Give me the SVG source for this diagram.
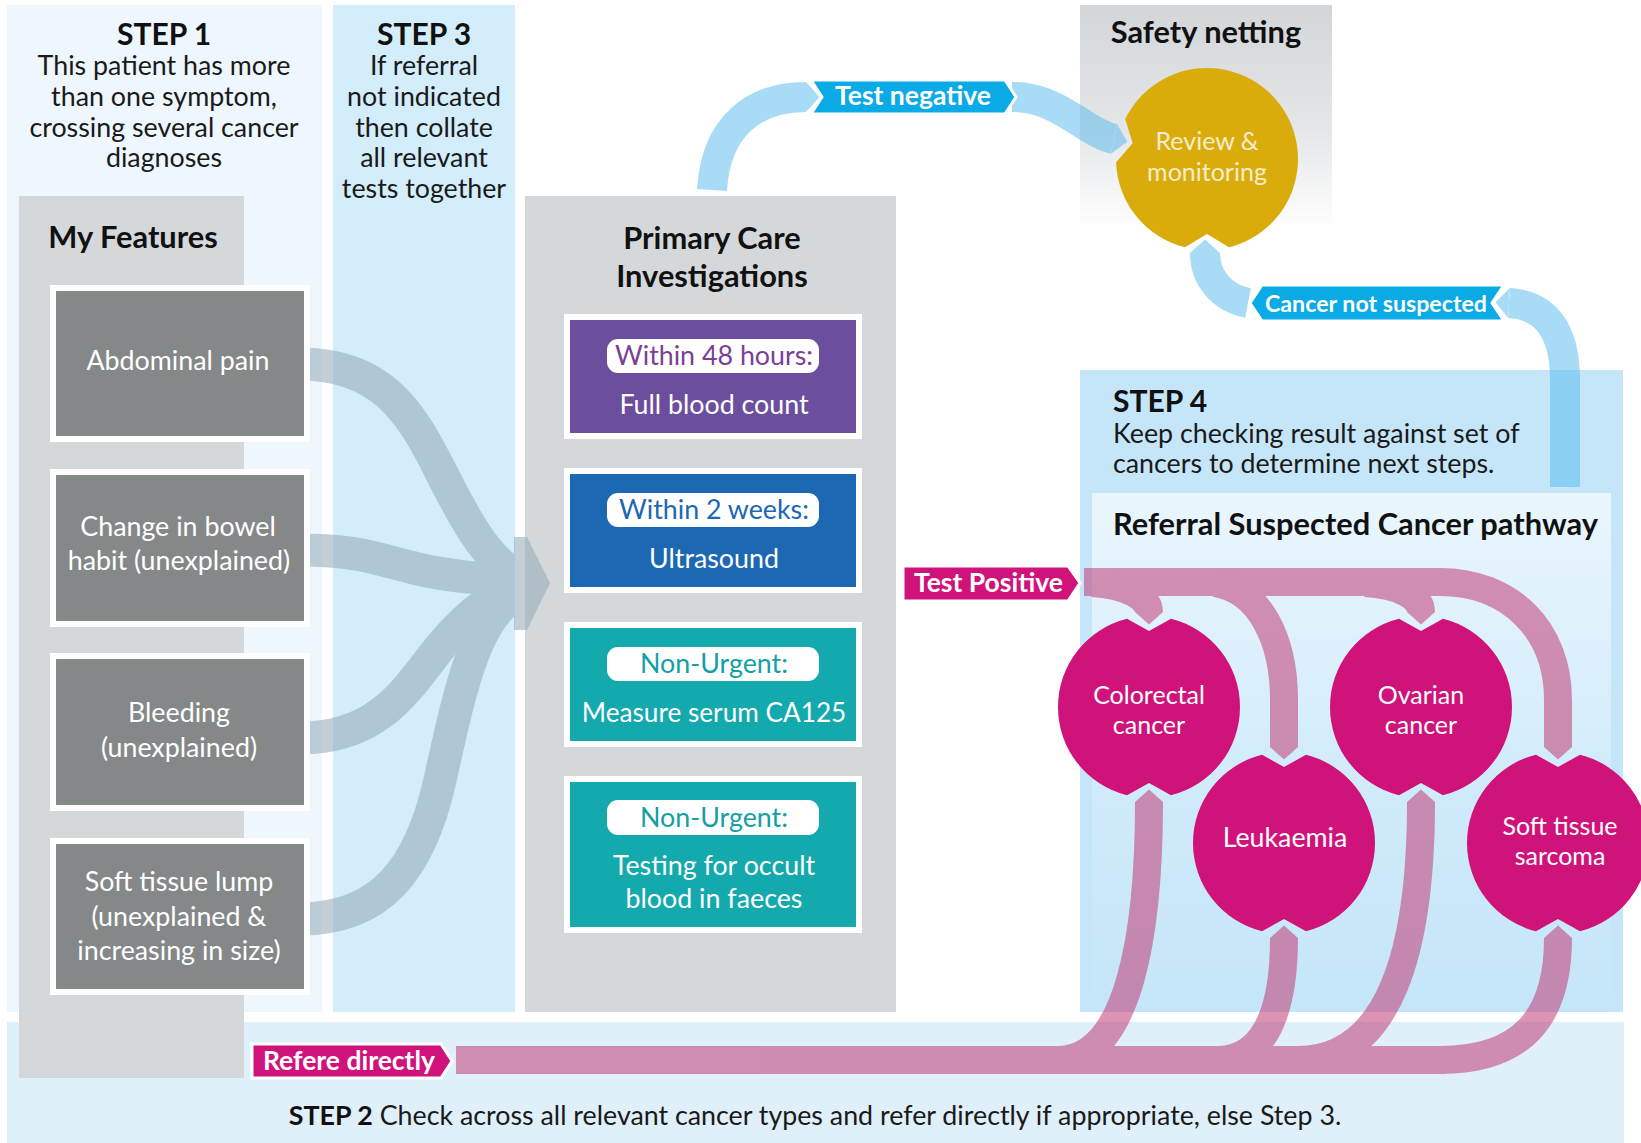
<svg xmlns="http://www.w3.org/2000/svg" width="1641" height="1143" viewBox="0 0 1641 1143">
<defs>
<style>
text{font-family:Lato,"Liberation Sans",sans-serif;}
.h{font-weight:bold;font-size:30px;fill:#111;}
.h2{font-weight:bold;font-size:30.8px;fill:#111;}
.b{font-size:26.8px;fill:#1a1a1a;}
.w{font-size:26.8px;fill:#fff;}
.cw{font-size:25px;fill:#fff;}
.tag{font-weight:bold;font-size:26.5px;fill:#fff;}
.feat{fill:#858888;stroke:#fff;stroke-width:6;}
.test{stroke:#fff;stroke-width:6;}
.pill{fill:#fff;}
.pink{fill:#d0137a;}
.blue{fill:#0aaae6;stroke:#fff;stroke-width:3;}
.ptag{fill:#d0137a;stroke:#fff;stroke-width:3;}
.c{text-anchor:middle;}
</style>
<linearGradient id="safeG" x1="0" y1="0" x2="0" y2="1">
<stop offset="0" stop-color="#d3d6d9"/>
<stop offset="0.55" stop-color="#e4e6e8"/>
<stop offset="1" stop-color="#ffffff"/>
</linearGradient>
<linearGradient id="refG" x1="0" y1="0" x2="0" y2="1">
<stop offset="0" stop-color="#eaf6fd"/>
<stop offset="0.6" stop-color="#cfeafa"/>
<stop offset="1" stop-color="#c5e6f9"/>
</linearGradient>
<marker id="tipP" viewBox="0 -0.5 0.45 1" refX="0" refY="0" markerWidth="0.45" markerHeight="1" markerUnits="strokeWidth" orient="auto"><path d="M0,-0.5 L0.45,0 L0,0.5 Z" fill="#c23c76"/></marker>
<marker id="tipB" viewBox="0 -0.5 0.45 1" refX="0" refY="0" markerWidth="0.45" markerHeight="1" markerUnits="strokeWidth" orient="auto"><path d="M0,-0.5 L0.45,0 L0,0.5 Z" fill="#53b9ed"/></marker>
</defs>

<rect width="1641" height="1143" fill="#fff"/>

<!-- background panels -->
<g id="panels">
<rect x="7" y="5" width="315" height="1007" fill="#eef7fd"/>
<rect x="333" y="5" width="182" height="1007" fill="#d3edfb"/>
<rect x="7" y="1022" width="1617" height="121" fill="#dff0fb"/>
<rect x="19" y="196" width="225" height="882" fill="#d5d8db"/>
<rect x="525" y="196" width="371" height="816" fill="#d5d8db"/>
<rect x="1080" y="5" width="252" height="225" fill="url(#safeG)"/>
<rect x="1080" y="370" width="543" height="642" fill="#c5e6f9"/>
<rect x="1092" y="493" width="519" height="519" fill="url(#refG)"/>
</g>

<!-- step texts -->
<g id="step1">
<text class="h c" x="164" y="45">STEP 1</text>
<text class="b c" x="164" y="75">This patient has more</text>
<text class="b c" x="164" y="106">than one symptom,</text>
<text class="b c" x="164" y="137">crossing several cancer</text>
<text class="b c" x="164" y="167">diagnoses</text>
</g>
<g id="step3">
<text class="h c" x="424" y="45">STEP 3</text>
<text class="b c" x="424" y="75">If referral</text>
<text class="b c" x="424" y="106">not indicated</text>
<text class="b c" x="424" y="137">then collate</text>
<text class="b c" x="424" y="167">all relevant</text>
<text class="b c" x="424" y="198">tests together</text>
</g>
<g id="step4">
<text class="h" x="1113" y="412">STEP 4</text>
<text class="b" x="1113" y="443">Keep checking result against set of</text>
<text class="b" x="1113" y="473">cancers to determine next steps.</text>
<text class="h2" x="1113" y="535">Referral Suspected Cancer pathway</text>
</g>
<g id="step2">
<text class="b c" x="815" y="1125"><tspan style="font-weight:bold;fill:#111">STEP 2</tspan> Check across all relevant cancer types and refer directly if appropriate, else Step 3.</text>
</g>
<text class="h2 c" x="133" y="248">My Features</text>
<text class="h2 c" x="712" y="249">Primary Care</text>
<text class="h2 c" x="712" y="287">Investigations</text>
<text class="h2 c" x="1206" y="43">Safety netting</text>

<!-- connectors -->
<g id="connectors">
<g id="grayflows" opacity="0.55" fill="none" stroke="#93a9b7" stroke-width="33">
<path d="M300 364 C380 364 410 410 440 470 C470 530 490 562 518 576"/>
<path d="M300 550 C360 550 380 560 410 567 C440 575 470 578 518 581"/>
<path d="M300 738 C370 738 400 700 430 660 C460 620 490 596 518 588"/>
<path d="M300 919 C380 919 420 870 440 780 C460 690 475 615 518 594"/>
<path d="M514 537 L527 537 L550 583 L527 630 L514 630 Z" fill="#93a9b7" stroke="none"/>
</g>
<g id="blueflows" opacity="0.5" fill="none" stroke="#53b9ed" stroke-width="30">
<path d="M712 190 C716 125 755 97 806 97" marker-end="url(#tipB)"/>
<path d="M1012 97 C1060 97 1085 133 1114 139" marker-end="url(#tipB)"/>
<path d="M1565 487 L1565 380 C1565 330 1545 305 1509 303" marker-end="url(#tipB)"/>
<path d="M1248 303 C1222 298 1205 278 1205 253" marker-end="url(#tipB)"/>
</g>
<g id="pinkflows" opacity="0.55" fill="none" stroke="#c23c76" stroke-width="28">
<path d="M1084 582 L1440 582 C1510 582 1558 630 1558 700 L1558 747" marker-end="url(#tipP)"/>
<path d="M1092 583 C1128 585 1149 598 1149 612" marker-end="url(#tipP)"/>
<path d="M1215 583 C1260 590 1284 640 1284 700 L1284 747" marker-end="url(#tipP)"/>
<path d="M1365 583 C1402 585 1421 598 1421 612" marker-end="url(#tipP)"/>
<path d="M456 1060 L1445 1060"/>
<path d="M1058 1060 C1130 1060 1149 930 1149 802" marker-end="url(#tipP)"/>
<path d="M1218 1060 C1270 1060 1284 1000 1284 938" marker-end="url(#tipP)"/>
<path d="M1298 1060 C1390 1060 1421 950 1421 802" marker-end="url(#tipP)"/>
<path d="M1440 1060 C1520 1060 1558 1020 1558 938" marker-end="url(#tipP)"/>
</g>
<path id="tag-testneg" class="blue" d="M811 80 L1005 80 L1016 97 L1005 114 L811 114 L822 97 Z"/>
<text class="tag c" x="913" y="105">Test negative</text>
<path id="tag-cns" class="blue" d="M1262 285 L1504 285 L1492 303 L1504 321 L1262 321 L1250 303 Z"/>
<text class="tag c" x="1376" y="312" style="font-size:23.2px">Cancer not suspected</text>
<path id="tag-pos" class="ptag" d="M903 566 L1068 566 L1080 583 L1068 601 L903 601 Z"/>
<text class="tag" x="914" y="592">Test Positive</text>
<path id="tag-ref" class="ptag" d="M252 1044 L441 1044 L452 1061 L441 1078 L252 1078 Z"/>
<text class="tag c" x="349" y="1070">Refere directly</text>
</g>

<!-- feature nodes -->
<g id="f-abdominal">
<rect class="feat" x="53" y="288" width="254" height="151"/>
<text class="w c" x="178" y="370">Abdominal pain</text>
</g>
<g id="f-bowel">
<rect class="feat" x="53" y="472" width="254" height="152"/>
<text class="w c" x="178" y="536">Change in bowel</text>
<text class="w c" x="179" y="570">habit (unexplained)</text>
</g>
<g id="f-bleeding">
<rect class="feat" x="53" y="656" width="254" height="152"/>
<text class="w c" x="179" y="722">Bleeding</text>
<text class="w c" x="179" y="757">(unexplained)</text>
</g>
<g id="f-lump">
<rect class="feat" x="53" y="841" width="254" height="151"/>
<text class="w c" x="179" y="891">Soft tissue lump</text>
<text class="w c" x="179" y="926">(unexplained &amp;</text>
<text class="w c" x="179" y="960">increasing in size)</text>
</g>

<!-- test nodes -->
<g id="t-fbc">
<rect class="test" x="567" y="317" width="292" height="119" fill="#6b4f9e"/>
<rect class="pill" x="607" y="339" width="212" height="34" rx="11"/>
<text class="b c" x="714" y="365" style="fill:#7b3f98">Within 48 hours:</text>
<text class="w c" x="714" y="414">Full blood count</text>
</g>
<g id="t-us">
<rect class="test" x="567" y="471" width="292" height="119" fill="#1c68b2"/>
<rect class="pill" x="607" y="493" width="212" height="34" rx="11"/>
<text class="b c" x="714" y="519" style="fill:#1c68b2">Within 2 weeks:</text>
<text class="w c" x="714" y="568">Ultrasound</text>
</g>
<g id="t-ca125">
<rect class="test" x="567" y="625" width="292" height="119" fill="#13a9ad"/>
<rect class="pill" x="607" y="647" width="212" height="34" rx="11"/>
<text class="b c" x="714" y="673" style="fill:#13a0a5">Non-Urgent:</text>
<text class="w c" x="714" y="722" style="font-size:26.2px">Measure serum CA125</text>
</g>
<g id="t-fob">
<rect class="test" x="567" y="779" width="292" height="151" fill="#13a9ad"/>
<rect class="pill" x="607" y="800" width="212" height="35" rx="11"/>
<text class="b c" x="714" y="827" style="fill:#13a0a5">Non-Urgent:</text>
<text class="w c" x="714" y="875">Testing for occult</text>
<text class="w c" x="714" y="908">blood in faeces</text>
</g>

<!-- review node -->
<g id="review">
<path d="M1125.2 119.1 A91 91 0 1 1 1229 247.3 L1207 234 L1185 247.3 A91 91 0 0 1 1116.1 162.2 L1132.7 143.2 Z" fill="#d9ac0c"/>
<text class="c" x="1207" y="150" style="font-size:25px;fill:#f6eccb">Review &amp;</text>
<text class="c" x="1207" y="181" style="font-size:25px;fill:#f6eccb">monitoring</text>
</g>

<!-- cancer nodes -->
<g id="c-colorectal">
<path class="pink" d="M1127 618.7 L1149 631 L1171 618.7 A91 91 0 0 1 1171 795.3 L1149 783 L1127 795.3 A91 91 0 0 1 1127 618.7 Z"/>
<text class="cw c" x="1149" y="704">Colorectal</text>
<text class="cw c" x="1149" y="734">cancer</text>
</g>
<g id="c-ovarian">
<path class="pink" d="M1399 618.7 L1421 631 L1443 618.7 A91 91 0 0 1 1443 795.3 L1421 783 L1399 795.3 A91 91 0 0 1 1399 618.7 Z"/>
<text class="cw c" x="1421" y="704">Ovarian</text>
<text class="cw c" x="1421" y="734">cancer</text>
</g>
<g id="c-leukaemia">
<path class="pink" d="M1262 754.7 L1284 767 L1306 754.7 A91 91 0 0 1 1306 931.3 L1284 919 L1262 931.3 A91 91 0 0 1 1262 754.7 Z"/>
<text class="w c" x="1285" y="847">Leukaemia</text>
</g>
<g id="c-sarcoma">
<path class="pink" d="M1536 754.7 L1558 767 L1580 754.7 A91 91 0 0 1 1580 931.3 L1558 919 L1536 931.3 A91 91 0 0 1 1536 754.7 Z"/>
<text class="cw c" x="1560" y="835">Soft tissue</text>
<text class="cw c" x="1560" y="865">sarcoma</text>
</g>
</svg>
